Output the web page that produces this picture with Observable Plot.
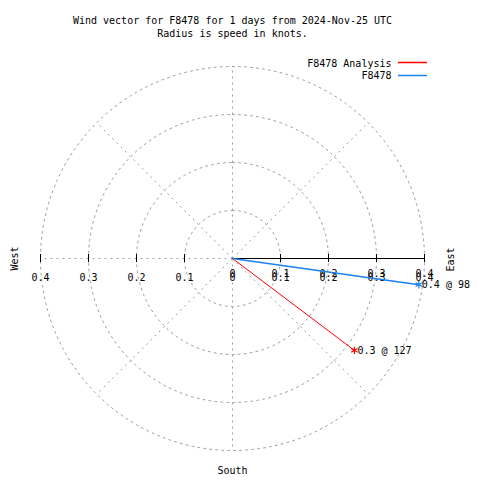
<!DOCTYPE html>
<html>
<head>
<meta charset="utf-8">
<script src="https://cdn.jsdelivr.net/npm/d3@7"></script>
<script src="https://cdn.jsdelivr.net/npm/@observablehq/plot@0.6"></script>
<style>
  html, body { margin: 0; padding: 0; background: #fff; }
  #chart svg { display: block; }
</style>
</head>
<body>
<div id="chart"></div>
<script>
// ---- data ----
const titleLines = ["Wind vector for F8478 for 1 days from 2024-Nov-25 UTC", "Radius is speed in knots."];
const seriesNames = ["F8478 Analysis", "F8478"];
const seriesColors = ["#ff0000", "#1a80f0"];
const speeds = [0.318, 0.392];      // knots
const directions = [127, 98];       // degrees, clockwise from north
const ringRadii = [0.1, 0.2, 0.3, 0.4];
const spokeAngles = [0, 45, 90, 135, 180, 225, 270, 315];
const tickValues = [0, 0.1, 0.2, 0.3, 0.4];
const tickLabels = ["0", "0.1", "0.2", "0.3", "0.4"];
const compassLabels = ["West", "East", "South"];

// ---- derived tables ----
const rad = d => d * Math.PI / 180;
const vectors = seriesNames.map((name, i) => ({
  name,
  color: seriesColors[i],
  speed: speeds[i],
  dir: directions[i],
  x: speeds[i] * Math.sin(rad(directions[i])),
  y: speeds[i] * Math.cos(rad(directions[i])),
  label: `${d3.format(".1f")(speeds[i])} @ ${directions[i]}`
}));
const ringPts = ringRadii.flatMap(r => d3.range(0, 361, 2).map(a => ({r, x: r * Math.sin(rad(a)), y: r * Math.cos(rad(a))})));
const rMax = d3.max(ringRadii);
const spokes = spokeAngles.map(a => ({x2: rMax * Math.sin(rad(a)), y2: rMax * Math.cos(rad(a))}));
const rightLabels = tickValues.map((v, i) => ({x: v, text: tickLabels[i]}));
const leftLabels = tickValues.filter(v => v > 0).map(v => ({x: -v, text: tickLabels[tickValues.indexOf(v)]}));
const allTicks = tickValues.filter(v => v > 0).flatMap(v => [v, -v]);

const font = "DejaVu Sans Mono";
const grid = {stroke: "#a0a0a0", strokeWidth: 1, strokeDasharray: "2,4"};
const txt = {fontFamily: font, fontSize: 10, fill: "#000"};

const plot = Plot.plot({
  width: 480,
  height: 480,
  margin: 0,
  x: {type: "linear", domain: [-rMax, rMax], range: [40, 424], axis: null},
  y: {type: "linear", domain: [-rMax, rMax], range: [450, 66], axis: null},
  style: {fontFamily: font, fontSize: "10px", background: "#fff"},
  marks: [
    // rings
    Plot.line(ringPts, {x: "x", y: "y", z: "r", ...grid}),
    // spokes
    Plot.link(spokes, {x1: () => 0, y1: () => 0, x2: "x2", y2: "y2", ...grid}),
    // solid axis to the right
    Plot.link([rMax], {x1: () => 0, y1: () => 0, x2: d => d, y2: () => 0, stroke: "#000", strokeWidth: 1}),
    // ticks
    (index, scales) => {
      const g = d3.create("svg:g").attr("stroke", "#000");
      for (const v of allTicks) {
        const px = Math.round(scales.x(v)) + 0.5, py = scales.y(0);
        g.append("line").attr("x1", px).attr("x2", px).attr("y1", py - 4).attr("y2", py + 4);
      }
      return g.node();
    },
    // tick labels
    Plot.text(leftLabels, {x: "x", y: () => 0, text: "text", dy: 19, ...txt}),
    Plot.text(rightLabels, {x: "x", y: () => 0, text: "text", dy: 19, ...txt}),
    Plot.text(rightLabels, {x: "x", y: () => 0, text: "text", dy: 15, ...txt}),
    // vectors
    Plot.link(vectors, {x1: () => 0, y1: () => 0, x2: "x", y2: "y", stroke: "color", strokeWidth: (d, i) => i === 0 ? 1 : 1.5}),
    Plot.dot(vectors, {x: "x", y: "y", stroke: "color", symbol: "asterisk", r: 3.5, strokeWidth: 1.2}),
    Plot.text(vectors, {x: "x", y: "y", text: "label", textAnchor: "start", dx: 3, ...txt}),
    // compass labels
    Plot.text([compassLabels[0]], {y: () => 0, frameAnchor: "left", dx: 14, rotate: -90, textAnchor: "middle", lineAnchor: "middle", ...txt}),
    Plot.text([compassLabels[1]], {y: () => 0, frameAnchor: "right", dx: -30, dy: 1, rotate: -90, textAnchor: "middle", lineAnchor: "middle", ...txt}),
    Plot.text([compassLabels[2]], {x: () => 0, frameAnchor: "bottom", dy: -10, lineAnchor: "middle", ...txt}),
    // title
    Plot.text([titleLines[0]], {x: () => 0, frameAnchor: "top", dy: 20, lineAnchor: "middle", ...txt}),
    Plot.text([titleLines[1]], {x: () => 0, frameAnchor: "top", dy: 33, lineAnchor: "middle", ...txt}),
    // legend text
    Plot.text([seriesNames[0]], {frameAnchor: "top-right", dx: -89, dy: 63, textAnchor: "end", lineAnchor: "middle", ...txt}),
    Plot.text([seriesNames[1]], {frameAnchor: "top-right", dx: -89, dy: 75.5, textAnchor: "end", lineAnchor: "middle", ...txt}),
    // legend lines
    () => {
      const g = d3.create("svg:g");
      seriesNames.forEach((s, i) => {
        const y = 62.5 + 13 * i;
        g.append("line").attr("x1", 398).attr("x2", 427).attr("y1", y).attr("y2", y)
          .attr("stroke", seriesColors[i]).attr("stroke-width", 1.5);
      });
      return g.node();
    }
  ]
});
document.getElementById("chart").append(plot);
</script>
</body>
</html>
